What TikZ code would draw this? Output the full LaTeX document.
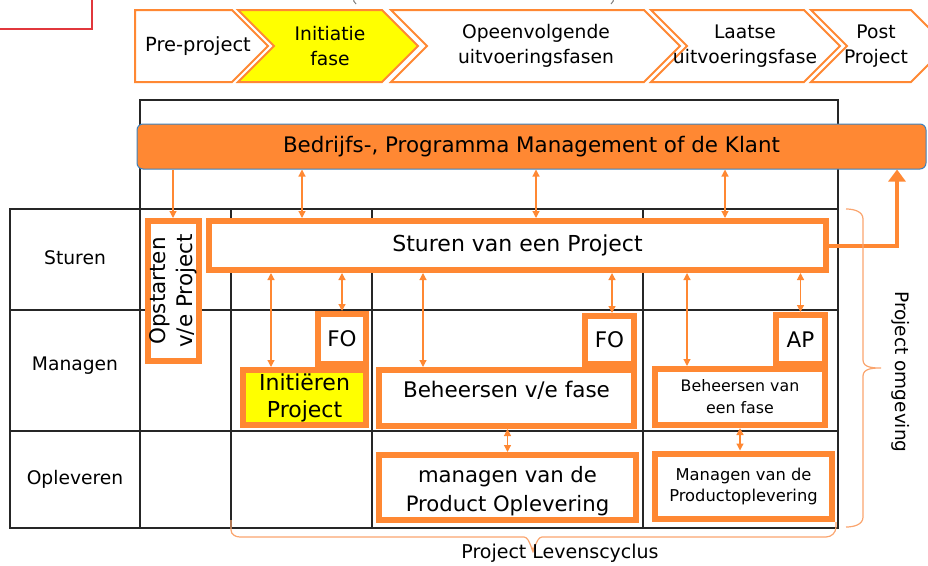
\documentclass[tikz,border=0pt]{standalone}
\usepackage{fontspec}
\setmainfont{DejaVu Sans}
\usetikzlibrary{arrows.meta}
\definecolor{org}{RGB}{255,136,51}
\definecolor{brc}{RGB}{250,165,110}
\definecolor{ylw}{RGB}{255,255,0}
\definecolor{bblue}{RGB}{60,130,190}
\definecolor{redl}{RGB}{225,55,60}
\begin{document}
\begin{tikzpicture}[x=1pt,y=-1pt,
 gridline/.style={draw=black!85, line width=1.4pt},
 obox/.style={draw=org, line width=6pt, fill=white, inner sep=0pt, align=center, font=\fontsize{21.5}{27}\selectfont},
 chev/.style={draw=org, line width=2pt, line join=miter},
 ctext/.style={align=center, font=\fontsize{18.7}{25}\selectfont},
 dbl/.style={draw=org, line width=1.2pt, {Triangle[width=7pt,length=7pt]}-{Triangle[width=7pt,length=7pt]}},
 sgl/.style={draw=org, line width=1.2pt, -{Triangle[width=7pt,length=7pt]}},
 bracel/.style={draw=brc, line width=1.2pt},
 lbl/.style={font=\fontsize{18.7}{22}\selectfont}
]
\useasboundingbox (0,0) rectangle (928,565);
% partial red frame and grey brackets at the top edge
\draw[redl, line width=1.3pt] (0,29) -- (92,29) -- (92,-5);
\draw[gray, line width=1pt] (354,-3) to[out=-110,in=150] (356,4);
\draw[gray, line width=1pt] (613,-3) to[out=-70,in=30] (611,4);
% chevrons
\draw[chev, fill=white] (135,10) -- (232,10) -- (268,46) -- (232,82) -- (135,82) -- cycle;
\draw[chev, fill=ylw] (238,10) -- (382,10) -- (418,46) -- (382,82) -- (238,82) -- (274,46) -- cycle;
\draw[chev, fill=white] (391,10) -- (644,10) -- (680,46) -- (644,82) -- (391,82) -- (427,46) -- cycle;
\draw[chev, fill=white] (651,10) -- (804,10) -- (840,46) -- (804,82) -- (651,82) -- (687,46) -- cycle;
\draw[chev, fill=white] (811,10) -- (911,10) -- (947,46) -- (911,82) -- (811,82) -- (847,46) -- cycle;
\node[ctext, font=\fontsize{19.5}{25}\selectfont] (ch1) at (198,46) {Pre-project};
\node[ctext] (ch2) at (330,46) {Initiatie\\fase};
\node[ctext] (ch3) at (536,46) {Opeenvolgende\\uitvoeringsfasen};
\node[ctext] (ch4) at (745,46) {Laatse\\uitvoeringsfase};
\node[ctext] (ch5) at (876,46) {Post\\Project};
% grid
\draw[gridline] (140,209) -- (140,100) -- (838,100) -- (838,209);
\draw[gridline] (10,209) rectangle (838,528);
\draw[gridline] (10,310) -- (838,310);
\draw[gridline] (10,431) -- (838,431);
\foreach \gx in {140,231,372,643} \draw[gridline] (\gx,209) -- (\gx,528);
% bar
\node[draw=bblue, line width=1pt, fill=org, rounded corners=6pt, minimum width=789pt, minimum height=45pt, font=\fontsize{21.4}{24}\selectfont] (bar) at (531.5,146.5) {Bedrijfs-, Programma Management of de Klant};
% row labels
\node[lbl] (r1) at (75,258) {Sturen};
\node[lbl] (r2) at (75,366) {Managen};
\node[lbl] (r3) at (75,479) {Opleveren};
% boxes
\node[obox, minimum width=51pt, minimum height=140pt] (opstart) at (173.5,291) {};
\node[rotate=90, align=center, font=\fontsize{21.5}{27}\selectfont] (opstartt) at (173.5,291) {Opstarten\\v/e Project};
\node[obox, font=\fontsize{22}{27}\selectfont, minimum width=617pt, minimum height=49pt] (sturen) at (517.5,245.5) {Sturen van een Project};
\node[obox, minimum width=48pt, minimum height=50pt] (fo1) at (342,339) {FO};
\node[obox, fill=ylw, font=\fontsize{22}{27}\selectfont, minimum width=123pt, minimum height=55pt] (init) at (304.5,397.5) {Initiëren\\Project};
\node[obox, minimum width=49pt, minimum height=48pt] (fo2) at (609.5,340) {FO};
\node[obox, minimum width=255pt, minimum height=56pt] (beh1) at (506.5,398) {};
\node[font=\fontsize{21.5}{27}\selectfont] (beh1t) at (506.5,390) {Beheersen v/e fase};
\node[obox, minimum width=49pt, minimum height=49pt] (ap) at (800.5,339.5) {AP};
\node[obox, minimum width=170pt, minimum height=56pt, font=\fontsize{15.8}{22}\selectfont] (beh2) at (740,397) {Beheersen van\\een fase};
\node[obox, minimum width=257pt, minimum height=65pt] (man1) at (507.5,487.5) {};
\node[align=center, font=\fontsize{21.2}{29}\selectfont] (man1t) at (507.5,491) {managen van de\\Product Oplevering};
\node[obox, minimum width=177pt, minimum height=65pt, font=\fontsize{16.3}{21}\selectfont] (man2) at (743.5,486) {Managen van de\\Productoplevering};
% arrow columns
\coordinate (k173) at (173,0);
\coordinate (k302) at (302,0);
\coordinate (k536) at (536,0);
\coordinate (k725) at (725,0);
\coordinate (k271) at (271,0);
\coordinate (k423) at (423,0);
\coordinate (k612) at (612,0);
\coordinate (k687) at (687,0);
\coordinate (k897) at (897,0);
\draw[sgl] (bar.south -| k173) -- (opstart.north -| k173);
\draw[dbl] (bar.south -| k302) -- (sturen.north -| k302);
\draw[dbl] (bar.south -| k536) -- (sturen.north -| k536);
\draw[dbl] (bar.south -| k725) -- (sturen.north -| k725);
\draw[dbl] (sturen.south -| k271) -- (init.north -| k271);
\draw[dbl] (sturen.south -| fo1.north) -- (fo1.north);
\draw[dbl] (sturen.south -| k423) -- (beh1.north -| k423);
\draw[dbl] (sturen.south -| k612) -- (fo2.north -| k612);
\draw[dbl] (sturen.south -| k687) -- (beh2.north -| k687);
\draw[dbl] (sturen.south -| ap.north) -- (ap.north);
\draw[dbl] (beh1.south -| man1.north) -- (man1.north);
\draw[dbl] (beh2.south) -- (man2.north -| beh2.south);
% thick arrow
\draw[draw=org, line width=4pt, -{Triangle[width=17pt,length=12pt]}] (sturen.east) -| (bar.south -| k897);
% braces
\draw[bracel] (846,209) to[out=0,in=90] (863,219) -- (863,360) to[out=-90,in=180] (881,368) to[out=180,in=90] (863,376) -- (863,517) to[out=-90,in=0] (846,527);
\node[rotate=-90, font=\fontsize{18.5}{22}\selectfont] (omg) at (901,372) {Project omgeving};
\draw[bracel] (231,520) -- (231,530) to[out=-90,in=180] (240,537) -- (524,537) to[out=0,in=-90] (533,550) to[out=-90,in=180] (542,537) -- (826,537) to[out=0,in=-90] (836,527) -- (836,522);
\node[font=\fontsize{19}{22}\selectfont] (lev) at (560,553) {Project Levenscyclus};
\end{tikzpicture}
\end{document}
